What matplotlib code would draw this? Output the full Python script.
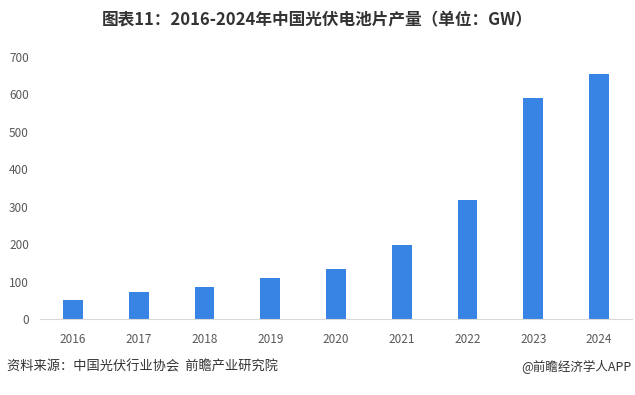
import matplotlib
matplotlib.use("Agg")
import matplotlib.pyplot as plt

plt.rcParams['font.family'] = ['Noto Sans CJK SC', 'DejaVu Sans']

years = ['2016', '2017', '2018', '2019', '2020', '2021', '2022', '2023', '2024']
output_gw = [51, 72, 85.4, 110.3, 134.8, 198, 318, 591, 654]
yticks = [0, 100, 200, 300, 400, 500, 600, 700]

fig = plt.figure(figsize=(6.35, 3.95), dpi=100)
ax = fig.add_axes([40 / 635, 1 - 319 / 395, 592 / 635, 262 / 395])

x = range(len(years))
ax.bar(x, output_gw, width=0.3, color='#3884e4', zorder=2)

ax.set_xlim(-0.5, len(years) - 0.5)
ax.set_ylim(0, 700)
ax.set_yticks(yticks)
ax.set_xticks(list(x))
ax.set_xticklabels(years)
ax.tick_params(axis='both', length=0, colors='#595959', labelsize=8.5)
ax.tick_params(axis='x', pad=10)
ax.tick_params(axis='y', pad=8)
for s in ['top', 'right', 'left']:
    ax.spines[s].set_visible(False)
ax.spines['bottom'].set_color('#d9d9d9')

fig.text(0.5, 1 - 20 / 395, '图表11：2016-2024年中国光伏电池片产量（单位：GW）',
         ha='center', va='center', fontsize=12, fontweight='bold', color='#333333')
fig.text(7 / 635, 1 - 367 / 395, '资料来源：中国光伏行业协会  前瞻产业研究院',
         ha='left', va='center', fontsize=9.5, color='#333333')
fig.text(632 / 635, 1 - 367 / 395, '@前瞻经济学人APP',
         ha='right', va='center', fontsize=9, color='#333333')

fig.savefig('out.png', dpi=100)
